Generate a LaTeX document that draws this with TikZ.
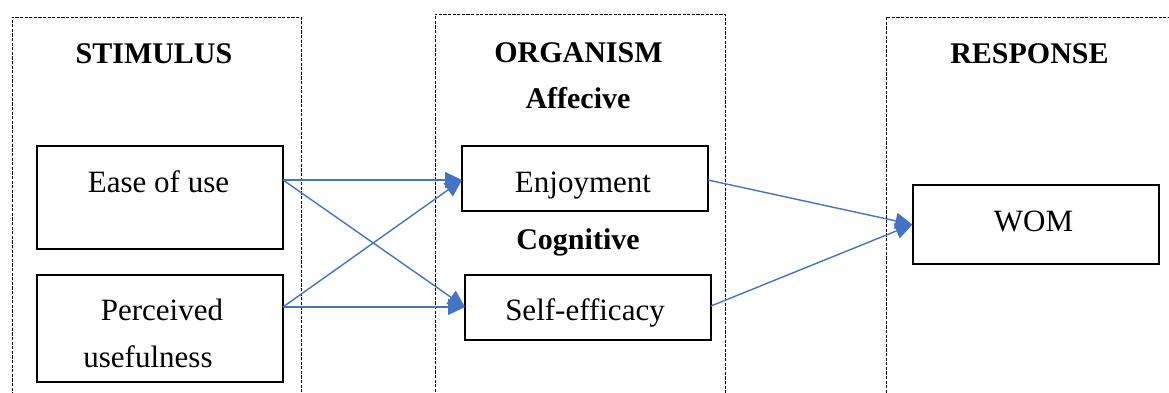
\documentclass[tikz,border=0pt]{standalone}
\usepackage{fontspec}
\setmainfont{Liberation Serif}
\usetikzlibrary{arrows.meta,fit,calc}
\definecolor{arrowblue}{HTML}{4472C4}
\begin{document}
\begin{tikzpicture}[x=0.5pt,y=-0.5pt,
  group/.style={draw, dash pattern=on 1.6pt off 0.7pt, line width=0.5pt, inner sep=0pt},
  varbox/.style={draw, line width=0.65pt, inner sep=0pt},
  head/.style={font=\fontsize{15}{17}\selectfont\bfseries, anchor=base, inner sep=0pt},
  lbl/.style={font=\fontsize{15.5}{17}\selectfont, anchor=base, inner sep=0pt},
  link/.style={arrowblue, line width=0.7pt, -{Triangle[length=8.5pt,width=8pt]}}]
\useasboundingbox (0,0) rectangle (1169,392);
\clip (0,0) rectangle (1169,392);
% groups
\node[group, fit={(12,17) (301,430)}] (stim) {};
\node[group, fit={(435,14) (725,430)}] (org) {};
\node[group, fit={(886,17) (1190,430)}] (resp) {};
% headings
\node[head] (hstim) at (154,63) {STIMULUS};
\node[head] (horg) at (578.5,62) {ORGANISM};
\node[head] (haff) at (578,108) {Affecive};
\node[head] (hcog) at (578,249) {Cognitive};
\node[head] (hresp) at (1029.5,63) {RESPONSE};
% variable boxes
\node[varbox, fit={(37,146) (283,249)}] (eou) {};
\node[varbox, fit={(37,275) (283,382)}] (pu) {};
\node[varbox, fit={(462,146) (708,211)}] (enj) {};
\node[varbox, fit={(465,275) (711,340)}] (se) {};
\node[varbox, fit={(913,185) (1159,264)}] (wom) {};
% labels
\node[lbl] (teou) at (158.5,192) {Ease of use};
\node[lbl] (tpu1) at (162,320) {Perceived};
\node[lbl] (tpu2) at (148,367) {usefulness};
\node[lbl] (tenj) at (583,192) {Enjoyment};
\node[lbl] (tse) at (585,320) {Self-efficacy};
\node[lbl] (twom) at (1033.5,231) {WOM};
% anchor coordinates
\coordinate (a1) at (283,180);
\coordinate (a2) at (283,307);
\coordinate (b1) at (462,180);
\coordinate (b2) at (465,307);
\coordinate (c1) at (708,180);
\coordinate (c2) at (711,306);
% connectors
\draw[link] (a1) -- (b1);
\draw[link] (a1) -- (b2);
\draw[link] (a2) -- (b1);
\draw[link] (a2) -- (b2);
\draw[link] (c1) -- (wom.west);
\draw[link] (c2) -- (wom.west);
\end{tikzpicture}
\end{document}
